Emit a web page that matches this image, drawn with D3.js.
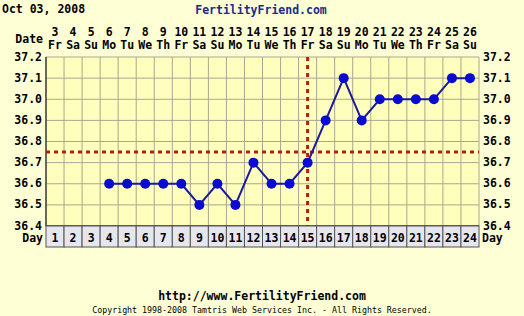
<!DOCTYPE html>
<html>
<head>
<meta charset="utf-8">
<script src="https://cdn.jsdelivr.net/npm/d3@7"></script>
<style>
  body { margin: 0; background: #ffffd6; }
  text { font-family: "DejaVu Sans Mono", monospace; font-weight: bold; fill: #000; }
</style>
</head>
<body>
<div id="chart"></div>
<script>
// Chart data
const days = d3.range(1, 25);
const dates = ["3","4","5","6","7","8","9","10","11","12","13","14","15","16","17","18","19","20","21","22","23","24","25","26"];
const weekdays = ["Fr","Sa","Su","Mo","Tu","We","Th","Fr","Sa","Su","Mo","Tu","We","Th","Fr","Sa","Su","Mo","Tu","We","Th","Fr","Sa","Su"];
const tempDays = [4,5,6,7,8,9,10,11,12,13,14,15,16,17,18,19,20,21,22,23,24];
const temps = [36.6,36.6,36.6,36.6,36.6,36.5,36.6,36.5,36.7,36.6,36.6,36.7,36.9,37.1,36.9,37.0,37.0,37.0,37.0,37.1,37.1];
const yTicks = [36.4,36.5,36.6,36.7,36.8,36.9,37.0,37.1,37.2];
const coverline = 36.75;
const ovulationDay = 15;

const width = 524, height = 316;
const plotL = 46, plotR = 479, plotT = 57, plotB = 226;
const fs = 11.5;

const svg = d3.select("#chart").append("svg")
    .attr("width", width)
    .attr("height", height);

const x = d3.scaleBand().domain(days).range([plotL, plotR]);
const y = d3.scaleLinear().domain([36.4, 37.2]).range([plotB, plotT]);
const cx = d => x(d) + x.bandwidth() / 2;

// plot background
svg.append("rect")
    .attr("x", plotL).attr("y", plotT)
    .attr("width", plotR - plotL).attr("height", plotB - plotT)
    .attr("fill", "#ffffbd");

// grid
svg.selectAll(".hgrid")
    .data(yTicks)
    .enter()
    .append("line")
    .attr("x1", plotL).attr("x2", plotR)
    .attr("y1", d => y(d)).attr("y2", d => y(d))
    .attr("stroke", "#a8a890");

svg.selectAll(".vgrid")
    .data(days.concat([25]))
    .enter()
    .append("line")
    .attr("x1", d => plotL + (d - 1) * x.bandwidth())
    .attr("x2", d => plotL + (d - 1) * x.bandwidth())
    .attr("y1", plotT).attr("y2", plotB)
    .attr("stroke", "#a8a890");

svg.append("line")
    .attr("x1", plotL).attr("x2", plotL)
    .attr("y1", plotT).attr("y2", plotB)
    .attr("stroke", "#000");
svg.append("line")
    .attr("x1", plotL).attr("x2", plotR)
    .attr("y1", plotB).attr("y2", plotB)
    .attr("stroke", "#000");

// y tick labels both sides
svg.selectAll(".ylab")
    .data(yTicks)
    .enter()
    .append("text")
    .attr("x", 42)
    .attr("y", d => y(d) + 3.5)
    .attr("text-anchor", "end")
    .attr("font-size", fs)
    .text(d => d.toFixed(1));

svg.selectAll(".ylabr")
    .data(yTicks)
    .enter()
    .append("text")
    .attr("x", 483)
    .attr("y", d => y(d) + 3.5)
    .attr("font-size", fs)
    .text(d => d.toFixed(1));

// date header
svg.selectAll(".date")
    .data(days)
    .enter()
    .append("text")
    .attr("x", d => cx(d))
    .attr("y", 36)
    .attr("text-anchor", "middle")
    .attr("font-size", fs)
    .text((d, i) => dates[i]);

svg.selectAll(".wday")
    .data(days)
    .enter()
    .append("text")
    .attr("x", d => cx(d))
    .attr("y", 49)
    .attr("text-anchor", "middle")
    .attr("font-size", fs)
    .text((d, i) => weekdays[i]);

svg.append("text")
    .attr("x", 43).attr("y", 43)
    .attr("text-anchor", "end")
    .attr("font-size", fs)
    .text("Date");

// day row
svg.selectAll(".daycell")
    .data(days)
    .enter()
    .append("rect")
    .attr("x", d => x(d))
    .attr("y", plotB)
    .attr("width", x.bandwidth())
    .attr("height", 21)
    .attr("fill", "#e6e6ee")
    .attr("stroke", "#555");

svg.selectAll(".daynum")
    .data(days)
    .enter()
    .append("text")
    .attr("x", d => cx(d))
    .attr("y", 242)
    .attr("text-anchor", "middle")
    .attr("font-size", fs)
    .text(d => d);

svg.append("text")
    .attr("x", 43).attr("y", 242)
    .attr("text-anchor", "end")
    .attr("font-size", fs)
    .text("Day");
svg.append("text")
    .attr("x", 482).attr("y", 242)
    .attr("font-size", fs)
    .text("Day");

// coverline and ovulation line
svg.append("line")
    .attr("x1", plotL).attr("x2", plotR)
    .attr("y1", y(coverline)).attr("y2", y(coverline))
    .attr("stroke", "#b02010")
    .attr("stroke-width", 3)
    .attr("stroke-dasharray", "4,4");

svg.append("line")
    .attr("x1", cx(ovulationDay)).attr("x2", cx(ovulationDay))
    .attr("y1", plotT).attr("y2", plotB)
    .attr("stroke", "#b02010")
    .attr("stroke-width", 3)
    .attr("stroke-dasharray", "4,4");

// temperature line
const line = d3.line()
    .x((d, i) => cx(tempDays[i]))
    .y(d => y(d));

svg.append("path")
    .datum(temps)
    .attr("d", line)
    .attr("fill", "none")
    .attr("stroke", "#1a1aa0")
    .attr("stroke-width", 2);

svg.selectAll(".pt")
    .data(temps)
    .enter()
    .append("circle")
    .attr("cx", (d, i) => cx(tempDays[i]))
    .attr("cy", d => y(d))
    .attr("r", 5)
    .attr("fill", "#0a0ad0");

// titles
svg.append("text")
    .attr("x", 2).attr("y", 13)
    .attr("font-size", fs)
    .text("Oct 03, 2008");

svg.append("text")
    .attr("x", 261).attr("y", 14)
    .attr("text-anchor", "middle")
    .attr("font-size", fs)
    .style("fill", "#1c2a8c")
    .text("FertilityFriend.com");

svg.append("text")
    .attr("x", 262).attr("y", 300)
    .attr("text-anchor", "middle")
    .attr("font-size", fs)
    .text("http://www.FertilityFriend.com");

svg.append("text")
    .attr("x", 262).attr("y", 313)
    .attr("text-anchor", "middle")
    .attr("font-size", 8.3)
    .style("font-weight", "normal")
    .text("Copyright 1998-2008 Tamtris Web Services Inc. - All Rights Reserved.");
</script>
</body>
</html>
